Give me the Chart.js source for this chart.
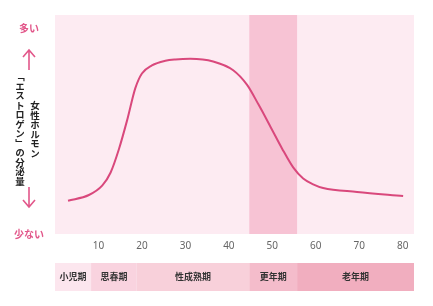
<!DOCTYPE html>
<html lang="ja">
<head>
<meta charset="utf-8">
<script src="https://cdn.jsdelivr.net/npm/chart.js@4"></script>
<style>
  html, body { margin: 0; padding: 0; background: #fff; }
  #Wrap { position: relative; width: 433px; height: 306px; font-family: "Noto Sans CJK JP", "Noto Sans", sans-serif; }
  #Chart { position: absolute; left: 0; top: 0; }
  .Pink { position: absolute; color: #e2578a; font-weight: bold; font-size: 10px; }
  .Arrow { position: absolute; }
  .VText {
    position: absolute; left: 12px; top: 70px; height: 118px;
    writing-mode: vertical-rl; text-align: center;
    font-size: 9.5px; font-weight: bold; color: #222; line-height: 15px;
  }
</style>
</head>
<body>
<div id="Wrap">
  <canvas id="Chart" width="433" height="306"></canvas>
  <div class="Pink" style="left:19px;top:20px;">多い</div>
  <svg class="Arrow" style="left:22px;top:48px;" width="14" height="24">
    <path d="M7 2 L7 22 M1 9 L7 2 L13 9" stroke="#e2578a" stroke-width="1.6" fill="none"/>
  </svg>
  <div class="VText">女性ホルモン<br>「エストロゲン」の分泌量</div>
  <svg class="Arrow" style="left:22px;top:186px;" width="14" height="24">
    <path d="M7 1 L7 21 M1 14 L7 21 L13 14" stroke="#e2578a" stroke-width="1.6" fill="none"/>
  </svg>
  <div class="Pink" style="left:14px;top:226px;">少ない</div>
</div>
<script>
const ages = [3, 7.8, 10.9, 12.8, 14.7, 16.6, 18.5, 20, 22.3, 25.4, 27.7, 31.1, 36.4, 41, 44.2, 46.8, 49.6, 52.2, 54.8, 57.1, 59.4, 61.7, 69.5, 80.1];
const estrogen = [15.2, 17.8, 22.2, 28.1, 38.7, 52, 66.7, 73.3, 77, 79.1, 79.7, 80, 78.8, 74.8, 68.1, 59.2, 48.9, 39.2, 30.4, 25.3, 22.7, 21, 19.2, 17.3];
const tickLabels = [10, 20, 30, 40, 50, 60, 70, 80];

const stageNames = ["小児期", "思春期", "性成熟期", "更年期", "老年期"];
const stageStarts = [0, 8.3, 18.8, 44.7, 55.7];
const stageEnds = [8.3, 18.8, 44.7, 55.7, 82.6];
const stageColors = ["#fce6ee", "#f9d3df", "#f8d0da", "#f4bccb", "#f1aebf"];
const menopauseIndex = 3;

const backgroundPlugin = {
  id: "background",
  beforeDatasetsDraw(chart) {
    const { ctx, chartArea, scales } = chart;
    ctx.save();
    ctx.fillStyle = "#fdebf2";
    ctx.fillRect(chartArea.left, chartArea.top, chartArea.right - chartArea.left, chartArea.bottom - chartArea.top);
    const x1 = scales.x.getPixelForValue(stageStarts[menopauseIndex]);
    const x2 = scales.x.getPixelForValue(stageEnds[menopauseIndex]);
    ctx.fillStyle = "#f7c3d4";
    ctx.fillRect(x1, chartArea.top, x2 - x1, chartArea.bottom - chartArea.top);
    ctx.restore();
  },
  afterDraw(chart) {
    const { ctx, scales } = chart;
    const top = 263;
    const height = 28;
    ctx.save();
    ctx.font = "bold 9px 'Noto Sans CJK JP'";
    ctx.textAlign = "center";
    ctx.textBaseline = "middle";
    stageNames.forEach((name, i) => {
      const x1 = scales.x.getPixelForValue(stageStarts[i]);
      const x2 = scales.x.getPixelForValue(stageEnds[i]);
      ctx.fillStyle = stageColors[i];
      ctx.fillRect(x1, top, x2 - x1, height);
      ctx.fillStyle = "#333";
      ctx.fillText(name, (x1 + x2) / 2, top + height / 2);
    });
    ctx.restore();
  },
};

new Chart(document.querySelector("#Chart"), {
  type: "line",
  data: {
    datasets: [
      {
        data: ages.map((age, i) => ({ x: age, y: estrogen[i] })),
        borderColor: "#d9487c",
        borderWidth: 2,
        pointRadius: 0,
        cubicInterpolationMode: "monotone",
        fill: false,
      },
    ],
  },
  options: {
    responsive: false,
    animation: false,
    layout: { padding: { left: 55, right: 19, top: 15, bottom: 48 } },
    plugins: { legend: { display: false }, tooltip: { enabled: false } },
    scales: {
      x: {
        type: "linear",
        min: 0,
        max: 82.6,
        grid: { display: false, drawTicks: false },
        border: { display: false },
        afterBuildTicks(scale) {
          scale.ticks = tickLabels.map((v) => ({ value: v }));
        },
        ticks: {
          color: "#666",
          padding: 6,
          font: { family: "'Noto Sans'", size: 10 },
          maxRotation: 0,
        },
      },
      y: {
        display: false,
        min: 0,
        max: 100,
      },
    },
  },
  plugins: [backgroundPlugin],
});
</script>
</body>
</html>
